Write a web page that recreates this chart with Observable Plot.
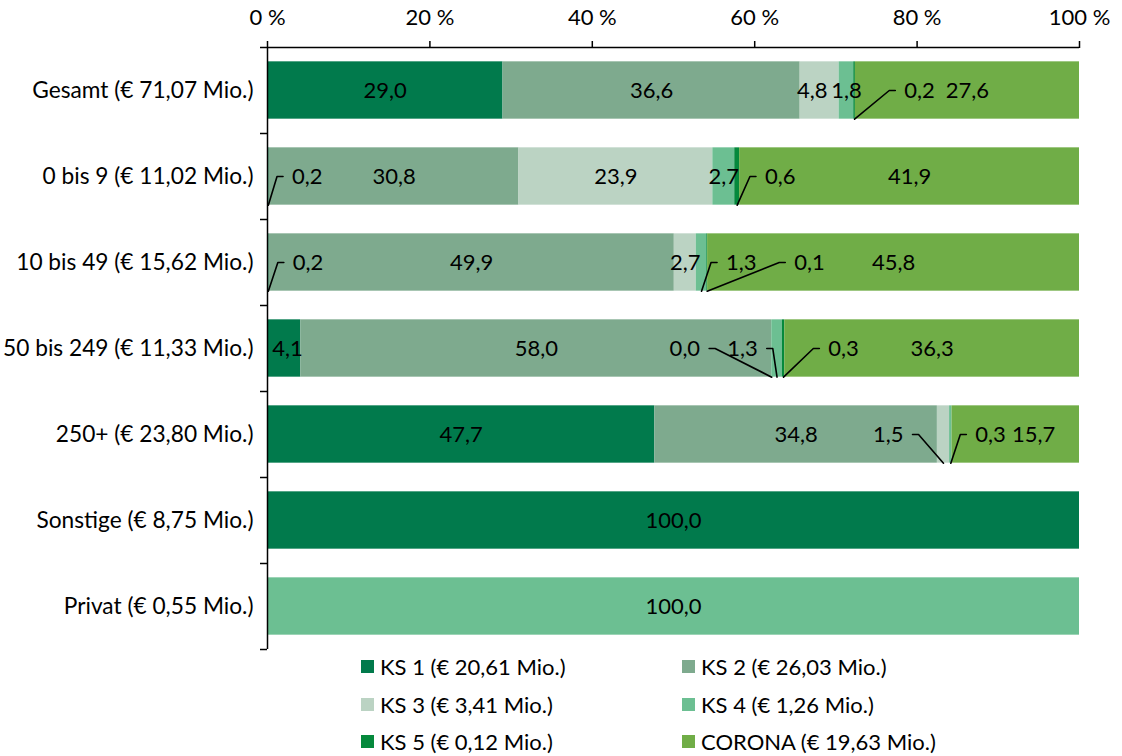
<!DOCTYPE html>
<html>
<head>
<meta charset="utf-8">
<script src="https://cdn.jsdelivr.net/npm/d3@7"></script>
<script src="https://cdn.jsdelivr.net/npm/@observablehq/plot@0.6"></script>
<style>
  html, body { margin: 0; padding: 0; background: #fff; }
  #wrap { position: relative; width: 1122px; height: 756px; font-family: Lato, "Liberation Sans", sans-serif; }
  #legend { position: absolute; left: 361px; top: 648px; display: grid; grid-template-columns: 321px 330px; grid-auto-rows: 37.5px; font-size: 22px; color: #000; }
  .item { display: flex; align-items: center; white-space: nowrap; }
  .sw { width: 13px; height: 13px; margin-right: 6px; flex: none; }
</style>
</head>
<body>
<div id="wrap"><div id="chart"></div><div id="legend"></div></div>
<script>
// ---- data ----
const categories = [
  "Gesamt (€ 71,07 Mio.)",
  "0 bis 9 (€ 11,02 Mio.)",
  "10 bis 49 (€ 15,62 Mio.)",
  "50 bis 249 (€ 11,33 Mio.)",
  "250+ (€ 23,80 Mio.)",
  "Sonstige (€ 8,75 Mio.)",
  "Privat (€ 0,55 Mio.)"
];
const series = [
  "KS 1 (€ 20,61 Mio.)",
  "KS 2 (€ 26,03 Mio.)",
  "KS 3 (€ 3,41 Mio.)",
  "KS 4 (€ 1,26 Mio.)",
  "KS 5 (€ 0,12 Mio.)",
  "CORONA (€ 19,63 Mio.)"
];
const ks1    = [29.0, 0.2, 0.2, 4.1, 47.7, 100.0, null];
const ks2    = [36.6, 30.8, 49.9, 58.0, 34.8, null, null];
const ks3    = [4.8, 23.9, 2.7, 0.0, 1.5, null, null];
const ks4    = [1.8, 2.7, 1.3, 1.3, 0.3, null, 100.0];
const ks5    = [0.2, 0.6, 0.1, 0.3, null, null, null];
const corona = [27.6, 41.9, 45.8, 36.3, 15.7, null, null];
const xTicks = [0, 20, 40, 60, 80, 100];

// ---- styling / layout ----
const colors = ["#017a4c", "#7eaa8e", "#bbd3c3", "#6cbf92", "#05893c", "#70ad47"];
const W = 1122, H = 652, mL = 267, mR = 43, mT = 47, mB = 3;
const kx = (W - mL - mR) / 100; // px per percent
const fontSize = 22;
const font = fontSize + "px Lato";
// label shifts (in axis percent) for labels Excel moved off their segment centre
const labelLayout = [
  {cat: 0, ser: 2, shift: -0.9, leader: false},
  {cat: 0, ser: 4, shift: 8.0, leader: true},
  {cat: 1, ser: 0, shift: 4.8, leader: true},
  {cat: 1, ser: 4, shift: 5.3, leader: true},
  {cat: 2, ser: 0, shift: 4.9, leader: true},
  {cat: 2, ser: 3, shift: 4.9, leader: true},
  {cat: 2, ser: 4, shift: 12.6, leader: true},
  {cat: 3, ser: 0, shift: 0.4, leader: false},
  {cat: 3, ser: 2, shift: -10.7, leader: true},
  {cat: 3, ser: 3, shift: -4.25, leader: true},
  {cat: 3, ser: 4, shift: 7.4, leader: true},
  {cat: 4, ser: 2, shift: -6.8, leader: true},
  {cat: 4, ser: 3, shift: 4.9, leader: true},
  {cat: 4, ser: 5, shift: 2.2, leader: false}
];

// ---- build tables ----
const cols = [ks1, ks2, ks3, ks4, ks5, corona];
const segs = [];
categories.forEach((c, i) => {
  const vals = cols.map(a => a[i]);
  const total = d3.sum(vals, v => v ?? 0);
  let acc = 0;
  vals.forEach((v, s) => {
    if (v === null) return;
    const x1 = acc / total * 100; acc += v; const x2 = acc / total * 100;
    segs.push({cat: i, ser: s, series: series[s], value: v, x1, x2, y1: i - 1/3, y2: i + 1/3, c: (x1 + x2) / 2});
  });
});
const ctx = document.createElement("canvas").getContext("2d");
ctx.font = font;
const fmt = v => v.toFixed(1).replace(".", ",");
const labels = [], leaders = [];
segs.forEach(d => {
  const lay = labelLayout.find(l => l.cat === d.cat && l.ser === d.ser);
  const text = fmt(d.value);
  const x = d.c + (lay ? lay.shift : 0);
  labels.push({x, y: d.cat, text});
  if (lay && lay.leader) {
    const dir = Math.sign(lay.shift);
    const half = ctx.measureText(text).width / 2 / kx;
    const near = x - dir * (half + 9 / kx);
    const elbow = x - dir * (half + 15 / kx);
    const id = d.cat + "-" + d.ser;
    leaders.push({id, x: d.c, y: d.cat + 1/3});
    leaders.push({id, x: elbow, y: d.cat});
    leaders.push({id, x: near, y: d.cat});
  }
});

const bounds = d3.range(categories.length + 1).map(i => i - 0.5);

const chart = Plot.plot({
  width: W, height: H,
  marginLeft: mL, marginRight: mR, marginTop: mT, marginBottom: mB,
  style: {fontFamily: "Lato, 'Liberation Sans', sans-serif", fontSize: fontSize + "px", color: "#000", background: "#fff"},
  x: {domain: [0, 100]},
  y: {domain: [categories.length - 0.5, -0.5]},
  color: {domain: series, range: colors},
  marks: [
    Plot.rect(segs, {x1: "x1", x2: "x2", y1: "y1", y2: "y2", fill: "series"}),
    Plot.line(leaders, {x: "x", y: "y", z: "id", stroke: "#000", strokeWidth: 1.6}),
    Plot.text(labels, {x: "x", y: "y", text: "text", fontSize, fill: "#000"}),
    Plot.ruleY([-0.5], {stroke: "#000", strokeWidth: 1.5}),
    Plot.ruleX([0], {stroke: "#000", strokeWidth: 1.5, y1: categories.length - 0.5, y2: -0.5}),
    Plot.axisX({anchor: "top", ticks: xTicks, tickFormat: d => d + " %", tickSize: 7, tickPadding: 16, strokeWidth: 1.5, label: null}),
    Plot.axisY({ticks: d3.range(categories.length), tickFormat: i => categories[i], tickSize: 0, tickPadding: 14, fontSize: 22.7, label: null}),
    Plot.axisY({ticks: bounds, tickFormat: () => "", tickSize: 7, strokeWidth: 1.5, label: null})
  ]
});
document.getElementById("chart").appendChild(chart);

// legend
const lg = document.getElementById("legend");
series.forEach((name, s) => {
  const it = document.createElement("div");
  it.className = "item";
  it.innerHTML = `<span class="sw" style="background:${colors[s]}"></span><span>${name}</span>`;
  lg.appendChild(it);
});
</script>
</body>
</html>
